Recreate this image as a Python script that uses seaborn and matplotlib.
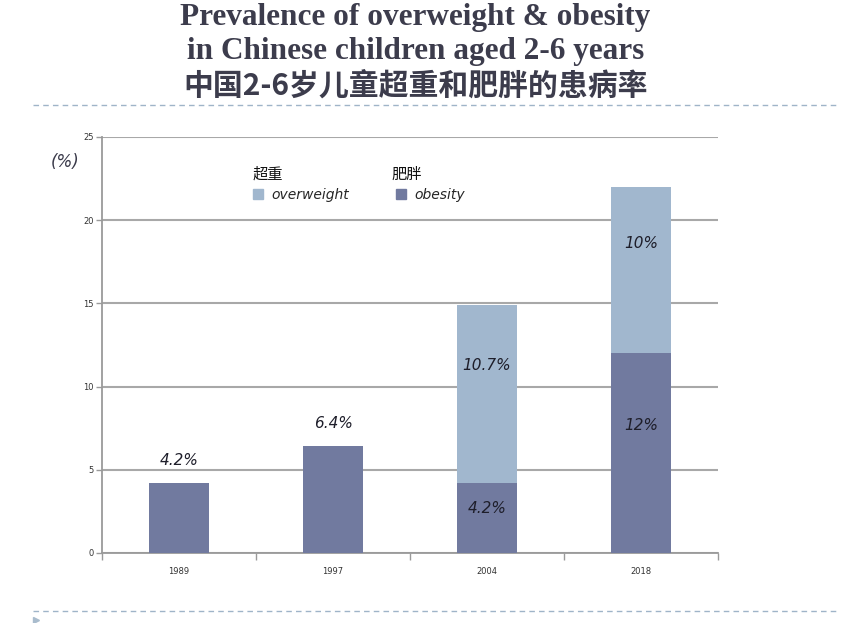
import numpy as np
import pandas as pd
import seaborn as sns
import matplotlib.pyplot as plt
from matplotlib.lines import Line2D
from matplotlib.patches import Patch

years = ['1989', '1997', '2004', '2018']
obesity = [4.2, 6.4, 4.2, 12.0]
overweight = [0.0, 0.0, 10.7, 10.0]
obesity_labels = ['4.2%', '6.4%', '4.2%', '12%']
overweight_labels = ['', '', '10.7%', '10%']

OBESE_COL = '#717a9f'
OVER_COL = '#a1b7ce'
TXT_COL = '#1e1e2a'

sns.set_theme(style='white')
plt.rcParams['font.family'] = ['DejaVu Sans', 'Noto Sans CJK SC']

df = pd.DataFrame({'year': years, 'obesity': obesity, 'overweight': overweight})
df['total'] = df['obesity'] + df['overweight']

fig = plt.figure(figsize=(8.65, 6.23), dpi=100)
ax = fig.add_axes([0.118, 0.1124, 0.712, 0.668])

sns.barplot(data=df, x='year', y='total', color=OVER_COL, width=0.39,
            saturation=1, linewidth=0, ax=ax, zorder=3)
sns.barplot(data=df, x='year', y='obesity', color=OBESE_COL, width=0.39,
            saturation=1, linewidth=0, ax=ax, zorder=3)

ax.set_ylim(0, 25)
ax.set_xlim(-0.5, 3.5)
ax.set_yticks([0, 5, 10, 15, 20, 25])
ax.set_xlabel('')
ax.set_ylabel('')
ax.yaxis.grid(True, color='#a8a8a8', linewidth=1.5, zorder=0)
ax.set_axisbelow(True)
for s in ['top', 'right']:
    ax.spines[s].set_visible(False)
for s in ['left', 'bottom']:
    ax.spines[s].set_color('#9a9a9a')
    ax.spines[s].set_linewidth(1.3)
ax.tick_params(axis='y', which='major', length=4, width=1, color='#9a9a9a',
               labelsize=6, labelcolor='#333333', pad=2, left=True)
ax.tick_params(axis='x', which='major', length=0, labelsize=6,
               labelcolor='#333333', pad=10)
ax.set_xticks(np.arange(-0.5, 4, 1), minor=True)
ax.tick_params(axis='x', which='minor', length=5, width=1, color='#9a9a9a',
               bottom=True)

# value labels
tops = df['total'].values
for i in range(len(years)):
    if overweight[i] > 0:
        ax.text(i, obesity[i] * 0.64, obesity_labels[i], ha='center', va='center',
                fontsize=11, style='italic', color=TXT_COL, zorder=5)
        ax.text(i, obesity[i] + overweight[i] * 0.66, overweight_labels[i],
                ha='center', va='center', fontsize=11, style='italic',
                color=TXT_COL, zorder=5)
    else:
        ax.annotate(obesity_labels[i], (i, tops[i]), xytext=(0, 11),
                    textcoords='offset points', ha='center', va='bottom',
                    fontsize=11, style='italic', color=TXT_COL)

# legend
handles = [Patch(color=OVER_COL), Patch(color=OBESE_COL)]
ax.legend(handles, ['overweight', 'obesity'], ncol=2, frameon=False,
          loc='center left', bbox_to_anchor=(0.225, 0.86), handlelength=0.7,
          handleheight=0.7, handletextpad=0.6, columnspacing=3.4,
          prop={'style': 'italic', 'size': 10})
fig.text(268 / 865, 1 - 174 / 623, '超重', ha='center', va='center',
         fontsize=11, color='#111111', family=['Noto Sans CJK SC'])
fig.text(407 / 865, 1 - 174 / 623, '肥胖', ha='center', va='center',
         fontsize=11, color='#111111', family=['Noto Sans CJK SC'])
fig.text(65 / 865, 1 - 162 / 623, '(%)', ha='center', va='center',
         fontsize=12, style='italic', color='#3a3a4a')

# title
TITLE_COL = '#3c3c4c'
fig.text(0.48, 1 - 17 / 623, 'Prevalence of overweight & obesity', ha='center',
         va='center', fontsize=22.5, weight='bold', color=TITLE_COL,
         family=['Liberation Serif'])
fig.text(0.48, 1 - 52 / 623, 'in Chinese children aged 2-6 years', ha='center',
         va='center', fontsize=22.5, weight='bold', color=TITLE_COL,
         family=['Liberation Serif'])
fig.text(0.48, 1 - 86 / 623, '中国2-6岁儿童超重和肥胖的患病率', ha='center',
         va='center', fontsize=21.5, weight='bold', color=TITLE_COL,
         family=['Noto Sans CJK SC'])

# decorative dashed separators
for yy in [105, 611]:
    fig.add_artist(Line2D([33 / 865, 836 / 865], [1 - yy / 623, 1 - yy / 623],
                          transform=fig.transFigure, color='#9fb4c8',
                          linewidth=1, linestyle=(0, (4, 3))))
fig.add_artist(Line2D([36 / 865], [1 - 620 / 623], transform=fig.transFigure,
                      marker='>', markersize=4, color='#a9bccd', linestyle=''))

fig.savefig('out.png', dpi=100)
